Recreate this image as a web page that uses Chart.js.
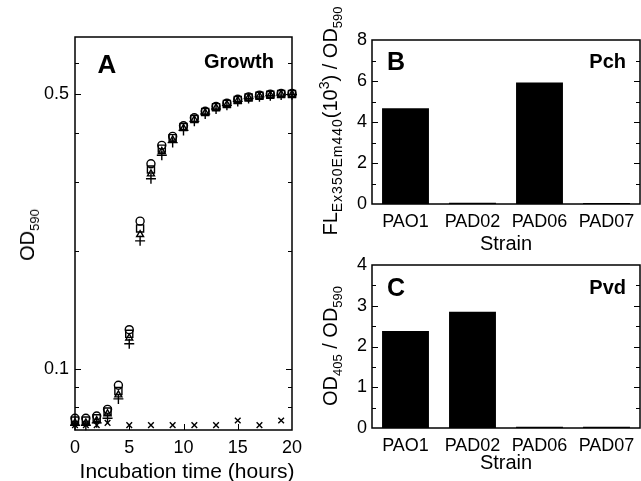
<!DOCTYPE html>
<html>
<head>
<meta charset="utf-8">
<script src="https://cdn.jsdelivr.net/npm/chart.js@4"></script>
<style>
body { margin: 0; background: #fff; }
#fig { position: relative; width: 641px; height: 481px; overflow: hidden; font-family: "Liberation Sans", Arial, sans-serif; color: #000; }
canvas { position: absolute; }
.t { position: absolute; white-space: nowrap; line-height: 1; }
.c { transform: translate(-50%, -50%); }
.r { transform: translate(-100%, -50%); }
.rot { transform: translate(-50%, -50%) rotate(-90deg); }
sub, sup { font-size: 13px; line-height: 0; }
</style>
</head>
<body>
<div id="fig">
  <canvas id="growth" width="320" height="481" style="left:0;top:0"></canvas>
  <canvas id="pch" width="321" height="250" style="left:320px;top:0"></canvas>
  <canvas id="pvd" width="321" height="231" style="left:320px;top:250px"></canvas>

  <div class="t c" style="left:107px;top:64px;font-size:26px;font-weight:bold">A</div>
  <div class="t r" style="left:274px;top:61px;font-size:20px;font-weight:bold">Growth</div>
  <div class="t rot" style="left:27px;top:235px;font-size:20px">OD<sub>590</sub></div>
  <div class="t c" style="left:187px;top:470px;font-size:21px">Incubation time (hours)</div>

  <div class="t c" style="left:396px;top:61px;font-size:25px;font-weight:bold">B</div>
  <div class="t r" style="left:626px;top:61px;font-size:20px;font-weight:bold">Pch</div>
  <div class="t rot" style="left:330px;top:121px;font-size:20px">FL<sub style="font-size:14px;letter-spacing:1px">Ex350Em440</sub>(10<sup style="font-size:14px">3</sup>) / OD<sub>590</sub></div>
  <div class="t c" style="left:506px;top:243px;font-size:20px">Strain</div>

  <div class="t c" style="left:396px;top:287px;font-size:25px;font-weight:bold">C</div>
  <div class="t r" style="left:626px;top:287px;font-size:20px;font-weight:bold">Pvd</div>
  <div class="t rot" style="left:330px;top:346px;font-size:20px">OD<sub>405</sub> / OD<sub>590</sub></div>
  <div class="t c" style="left:506px;top:462px;font-size:20px">Strain</div>
</div>
<script>
// panel A: growth curves (OD590, log scale)
const hours = [0, 1, 2, 3, 4, 5, 6, 7, 8, 9, 10, 11, 12, 13, 14, 15, 16, 17, 18, 19, 20];
const growthCircle = [0.075, 0.075, 0.076, 0.079, 0.091, 0.126, 0.238, 0.333, 0.371, 0.391, 0.416, 0.436, 0.453, 0.466, 0.475, 0.486, 0.493, 0.498, 0.501, 0.503, 0.503];
const growthSquare = [0.074, 0.074, 0.075, 0.078, 0.088, 0.123, 0.228, 0.322, 0.364, 0.387, 0.413, 0.433, 0.451, 0.464, 0.473, 0.484, 0.491, 0.496, 0.499, 0.501, 0.501];
const growthTriangle = [0.073, 0.073, 0.074, 0.077, 0.086, 0.120, 0.220, 0.314, 0.358, 0.383, 0.410, 0.431, 0.449, 0.462, 0.471, 0.482, 0.490, 0.495, 0.498, 0.500, 0.500];
const growthPlus = [0.072, 0.072, 0.073, 0.075, 0.084, 0.116, 0.212, 0.305, 0.350, 0.377, 0.405, 0.427, 0.446, 0.459, 0.469, 0.480, 0.488, 0.493, 0.496, 0.498, 0.499];
const blankHours = [0, 1, 2, 3, 5, 7, 9, 11, 13, 15, 17, 19];
const blankOD = [0.072, 0.072, 0.072, 0.073, 0.072, 0.072, 0.072, 0.072, 0.072, 0.074, 0.072, 0.074];
const xTicksA = [0, 5, 10, 15, 20];
const yTicksA = [0.07, 0.08, 0.09, 0.1, 0.2, 0.3, 0.4, 0.5, 0.6, 0.7];
const yLabelsA = ['', '', '', '0.1', '', '', '', '0.5', '', ''];

// panels B and C: siderophore production per strain
const strains = ['PAO1', 'PAD02', 'PAD06', 'PAD07'];
const pchValues = [4.67, 0.06, 5.93, 0.05];
const pvdValues = [2.38, 2.85, 0.03, 0.03];
const yTicksB = [0, 1, 2, 3, 4, 5, 6, 7, 8];
const yLabelsB = ['0', '', '2', '', '4', '', '6', '', '8'];
const yTicksC = [0, 0.5, 1, 1.5, 2, 2.5, 3, 3.5, 4];
const yLabelsC = ['0', '', '1', '', '2', '', '3', '', '4'];

const tickFont = { family: "'Liberation Sans', Arial, sans-serif", size: 18 };

// frame box + inward ticks on both sides
const frameTicks = {
  id: 'frameTicks',
  afterDraw(chart, args, opts) {
    const { ctx, chartArea: { left, right, top, bottom }, scales } = chart;
    ctx.save();
    ctx.strokeStyle = '#000';
    ctx.lineWidth = 1;
    ctx.beginPath();
    scales.y.ticks.forEach(t => {
      const py = Math.round(scales.y.getPixelForValue(t.value)) + 0.5;
      if (py <= top + 1 || py >= bottom - 1) return;
      const len = t.label ? 6 : 4;
      ctx.moveTo(left, py); ctx.lineTo(left + len, py);
      ctx.moveTo(right, py); ctx.lineTo(right - len, py);
    });
    if (opts.xTicks) {
      scales.x.ticks.forEach(t => {
        const px = Math.round(scales.x.getPixelForValue(t.value)) + 0.5;
        if (px <= left + 1 || px >= right - 1) return;
        ctx.moveTo(px, bottom); ctx.lineTo(px, bottom - 6);
      });
    }
    ctx.stroke();
    ctx.lineWidth = 1.5;
    ctx.strokeRect(left, top, right - left, bottom - top);
    ctx.restore();
  }
};

function pts(xs, ys) {
  return xs.map((x, i) => ({ x: x, y: ys[i] }));
}

function markerSet(label, ys, style, r, xs) {
  return {
    label: label,
    data: pts(xs || hours, ys),
    pointStyle: style,
    pointRadius: r,
    borderColor: '#000',
    backgroundColor: 'rgba(0,0,0,0)',
    pointBorderWidth: 1.4,
    showLine: false,
    clip: false
  };
}

new Chart(document.getElementById('growth'), {
  type: 'scatter',
  data: {
    datasets: [
      markerSet('circle', growthCircle, 'circle', 4),
      markerSet('square', growthSquare, 'rect', 5),
      markerSet('triangle', growthTriangle, 'triangle', 4),
      markerSet('plus', growthPlus, 'cross', 5),
      markerSet('blank', blankOD, 'crossRot', 4, blankHours)
    ]
  },
  options: {
    responsive: false,
    animation: false,
    devicePixelRatio: 1,
    layout: { padding: { left: 35, right: 28, top: 37, bottom: 21 } },
    plugins: { legend: { display: false }, tooltip: { enabled: false }, frameTicks: { xTicks: true } },
    scales: {
      x: {
        type: 'linear', min: 0, max: 20,
        afterBuildTicks: s => { s.ticks = xTicksA.map(v => ({ value: v })); },
        afterFit: s => { s.height = 30; s.paddingLeft = 0; s.paddingRight = 0; },
        grid: { display: false, drawTicks: false },
        border: { display: false },
        ticks: { font: tickFont, color: '#000', padding: 7, autoSkip: false, maxRotation: 0 }
      },
      y: {
        type: 'logarithmic', min: 0.07, max: 0.7,
        afterBuildTicks: s => { s.ticks = yTicksA.map(v => ({ value: v })); },
        afterFit: s => { s.width = 40; s.paddingTop = 0; s.paddingBottom = 0; },
        grid: { display: false, drawTicks: false },
        border: { display: false },
        ticks: { font: tickFont, color: '#000', padding: 6, autoSkip: false, callback: (v, i) => yLabelsA[i] }
      }
    }
  },
  plugins: [frameTicks]
});

function barChart(id, values, yMax, yTicks, yLabels, pad) {
  return new Chart(document.getElementById(id), {
    type: 'bar',
    data: {
      labels: strains,
      datasets: [{
        data: values,
        backgroundColor: '#000',
        borderWidth: 0,
        barPercentage: 0.7,
        categoryPercentage: 1.0
      }]
    },
    options: {
      responsive: false,
      animation: false,
      devicePixelRatio: 1,
      layout: { padding: pad },
      plugins: { legend: { display: false }, tooltip: { enabled: false }, frameTicks: { xTicks: false } },
      scales: {
        x: {
          afterFit: s => { s.height = 30; s.paddingLeft = 0; s.paddingRight = 0; },
          grid: { display: false, drawTicks: false },
          border: { display: false },
          ticks: { font: tickFont, color: '#000', padding: 7, autoSkip: false, maxRotation: 0 }
        },
        y: {
          min: 0, max: yMax,
          afterBuildTicks: s => { s.ticks = yTicks.map(v => ({ value: v })); },
          afterFit: s => { s.width = 40; s.paddingTop = 0; s.paddingBottom = 0; },
          grid: { display: false, drawTicks: false },
          border: { display: false },
          ticks: { font: tickFont, color: '#000', padding: 5, autoSkip: false, callback: (v, i) => yLabels[i] }
        }
      }
    },
    plugins: [frameTicks]
  });
}

barChart('pch', pchValues, 8, yTicksB, yLabelsB, { left: 12, right: 1, top: 40, bottom: 16 });
barChart('pvd', pvdValues, 4, yTicksC, yLabelsC, { left: 12, right: 1, top: 15, bottom: 23 });
</script>
</body>
</html>
